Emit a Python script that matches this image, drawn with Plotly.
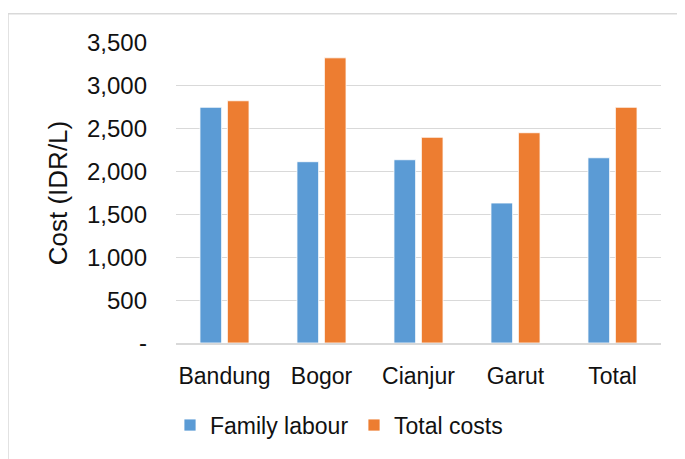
import plotly.graph_objects as go

categories = ["Bandung", "Bogor", "Cianjur", "Garut", "Total"]
family_labour = [2750, 2115, 2138, 1633, 2161]
total_costs = [2826, 3327, 2400, 2453, 2750]
y_ticks = [0, 500, 1000, 1500, 2000, 2500, 3000, 3500]
y_tick_labels = ["-", "500", "1,000", "1,500", "2,000", "2,500", "3,000", "3,500"]

FONT = "Liberation Sans, Arial, sans-serif"
TXT = "#111111"
# page has an 8px body margin, so the figure is 8px smaller and shifted
W, H = 677, 451
ML, MR, MT, MB = 168, 24, 35, 109
PW, PH = W - ML - MR, H - MT - MB

fig = go.Figure()
fig.add_trace(go.Bar(x=categories, y=family_labour, name="Family labour",
                     marker=dict(color="#5B9BD5", line=dict(color="white", width=0.8))))
fig.add_trace(go.Bar(x=categories, y=total_costs, name="Total costs",
                     marker=dict(color="#ED7D31", line=dict(color="white", width=0.8))))

fig.update_layout(
    width=W, height=H,
    margin=dict(l=ML, r=MR, t=MT, b=MB, pad=0),
    paper_bgcolor="white", plot_bgcolor="white",
    barmode="group", bargap=0.435, bargroupgap=0.21,
    font=dict(family=FONT, size=23, color=TXT),
    showlegend=True,
    legend=dict(orientation="h", x=(162 - ML) / PW, xanchor="left",
                y=(H - MB - 426) / PH, yanchor="middle",
                font=dict(family=FONT, size=23, color=TXT),
                bgcolor="rgba(0,0,0,0)", itemwidth=30,
                entrywidth=139, entrywidthmode="pixels",
                traceorder="normal"),
    xaxis=dict(showgrid=False, showline=True, linecolor="#D9D9D9", linewidth=1.5,
               ticks="", tickfont=dict(family=FONT, size=23, color=TXT),
               ticklabelstandoff=12, automargin=False),
    yaxis=dict(range=[0, 3500], tickvals=y_ticks, ticktext=y_tick_labels,
               showgrid=True, gridcolor="#D9D9D9", gridwidth=1.3,
               zeroline=False, showline=False, ticks="",
               tickfont=dict(family=FONT, size=24, color=TXT),
               ticklabelstandoff=28, automargin=False,
               title=dict(text="Cost (IDR/L)", standoff=11,
                          font=dict(family=FONT, size=26, color=TXT))),
    shapes=[dict(type="rect", xref="paper", yref="paper",
                 x0=(0 - ML) / PW, x1=(W + 20 - ML) / PW,
                 y0=(H - MB - (H + 20)) / PH, y1=(H - MB - 5) / PH,
                 line=dict(color="#D9D9D9", width=1.5), fillcolor="rgba(0,0,0,0)",
                 layer="below")],
)

fig.write_html("out.html")
